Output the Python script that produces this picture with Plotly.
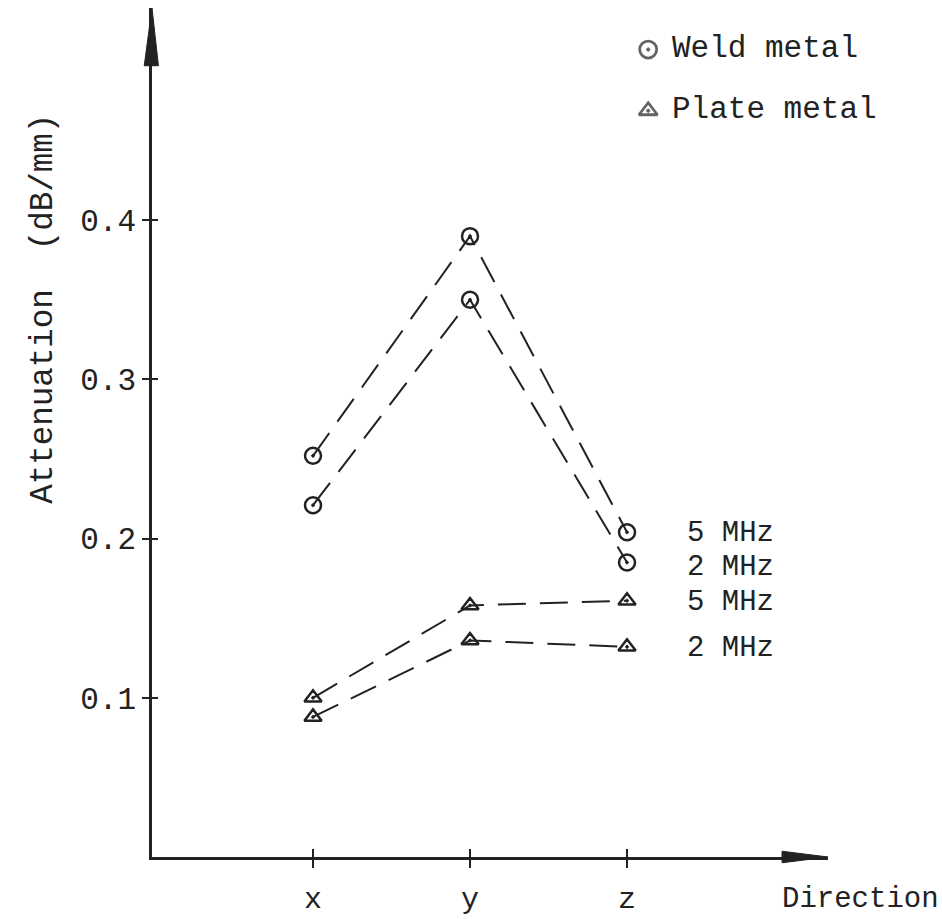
import plotly.graph_objects as go

# ---- data ----
directions = ["x", "y", "z"]
weld_5mhz = [0.252, 0.390, 0.204]
weld_2mhz = [0.221, 0.350, 0.185]
plate_5mhz = [0.100, 0.158, 0.161]
plate_2mhz = [0.088, 0.136, 0.132]
series_labels = ["5 MHz", "2 MHz", "5 MHz", "2 MHz"]
label_shift = [-1, -5, -2, -2]
ytick_vals = [0.1, 0.2, 0.3, 0.4]
ytick_text = ["0.1", "0.2", "0.3", "0.4"]
legend_names = ["Weld metal", "Plate metal"]

INK = "#222222"
FONT = "Liberation Mono, Courier New, monospace"

fig = go.Figure()

series = [
    (weld_5mhz, "circle-open-dot", 16),
    (weld_2mhz, "circle-open-dot", 16),
    (plate_5mhz, "triangle-up-open-dot", 15),
    (plate_2mhz, "triangle-up-open-dot", 15),
]
for vals, sym, sz in series:
    fig.add_trace(go.Scatter(
        x=directions, y=vals, mode="lines+markers", showlegend=False,
        line=dict(color=INK, width=2, dash="28px,14px"),
        marker=dict(symbol=sym, size=sz, color=INK, line=dict(width=2.5, color=INK)),
        xaxis="x", yaxis="y",
    ))

# manual legend: symbols on a hidden full-frame axis pair, text as annotations
legend_syms = ["circle-open-dot", "triangle-up-open-dot"]
legend_sizes = [17, 16]
legend_x = 0.734
legend_ys = [0.951, 0.879]
fig.add_trace(go.Scatter(
    x=[legend_x] * 2, y=legend_ys, mode="markers", showlegend=False, hoverinfo="skip",
    marker=dict(symbol=legend_syms, size=legend_sizes, color=INK,
                line=dict(width=2.8, color=INK)),
    xaxis="x3", yaxis="y3"))

annotations = []
for name, ly in zip(legend_names, legend_ys):
    annotations.append(dict(x=legend_x, y=ly, xref="x3", yref="y3", text=name,
                            showarrow=False, xanchor="left", yanchor="middle",
                            xshift=22, yshift=1,
                            font=dict(family=FONT, size=31, color=INK)))

# series labels at the right end of each line
all_series = [weld_5mhz, weld_2mhz, plate_5mhz, plate_2mhz]
for vals, lab, sh in zip(all_series, series_labels, label_shift):
    annotations.append(dict(x=directions[-1], y=vals[-1], xref="x", yref="y",
                            text=lab, showarrow=False, xanchor="left", yanchor="middle",
                            xshift=58, yshift=sh,
                            font=dict(family=FONT, size=29, color=INK)))

annotations.append(dict(x=1.167, y=-0.050, xref="paper", yref="paper",
                        text="Direction", showarrow=False, xanchor="right", yanchor="middle",
                        font=dict(family=FONT, size=29, color=INK)))
annotations.append(dict(x=-0.161, y=0.646, xref="paper", yref="paper",
                        text="Attenuation\u00a0\u00a0(dB/mm)", showarrow=False, textangle=-90,
                        xanchor="center", yanchor="middle",
                        font=dict(family=FONT, size=32.5, color=INK)))

# axis arrowheads (decorations)
shapes = [
    dict(type="path", xref="paper", yref="paper",
         path="M -0.0115,0.932 L 0.0000,1.000 L 0.0095,0.932 Z",
         fillcolor=INK, line=dict(color=INK, width=1)),
    dict(type="path", xref="paper", yref="paper",
         path="M 0.932,-0.0068 L 1.000,0.0 L 0.932,0.0068 Z",
         fillcolor=INK, line=dict(color=INK, width=1)),
]

xr = [-1.0255, 3.280]
yr = [0, 0.5333]

fig.update_layout(
    width=942, height=919,
    margin=dict(l=152, r=114, t=8, b=62, autoexpand=False),
    paper_bgcolor="white", plot_bgcolor="white",
    font=dict(family=FONT, size=31, color=INK),
    showlegend=False,
    xaxis=dict(type="category", range=xr, showgrid=False, zeroline=False,
               showline=True, linecolor=INK, linewidth=2.5, automargin=False,
               ticks="outside", ticklen=8, tickwidth=2, tickcolor=INK,
               ticklabelstandoff=4,
               tickfont=dict(family=FONT, size=30, color=INK)),
    xaxis2=dict(overlaying="x", range=xr, tickvals=[0, 1, 2], showticklabels=False,
                showgrid=False, zeroline=False, ticks="inside", ticklen=8,
                tickwidth=2, tickcolor=INK, side="bottom", automargin=False),
    yaxis=dict(range=yr, showgrid=False, zeroline=False, automargin=False,
               showline=True, linecolor=INK, linewidth=2.5,
               tickvals=ytick_vals, ticktext=ytick_text,
               ticks="outside", ticklen=7, tickwidth=2, tickcolor=INK,
               tickfont=dict(family=FONT, size=31, color=INK)),
    yaxis2=dict(overlaying="y", range=yr, tickvals=ytick_vals, showticklabels=False,
                showgrid=False, zeroline=False, ticks="inside", ticklen=6,
                tickwidth=2, tickcolor=INK, side="left", automargin=False),
    xaxis3=dict(overlaying="x", range=[0, 1], visible=False, automargin=False),
    yaxis3=dict(overlaying="y", range=[0, 1], visible=False, automargin=False),
    annotations=annotations,
    shapes=shapes,
)

# dummy trace to activate overlay tick axes
fig.add_trace(go.Scatter(x=[None], y=[None], xaxis="x2", yaxis="y2",
                         showlegend=False, hoverinfo="skip"))

fig.write_html("out.html")
